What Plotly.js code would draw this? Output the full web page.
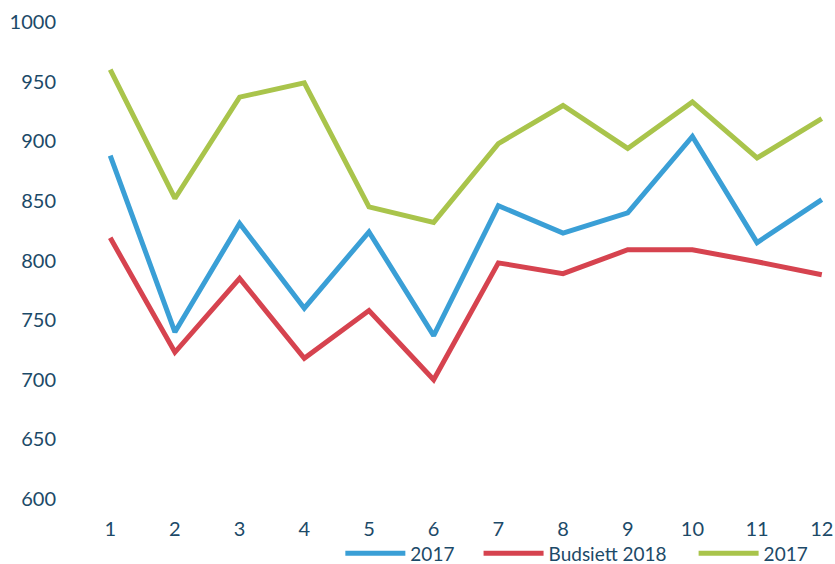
<!DOCTYPE html>
<html>
<head>
<meta charset="utf-8">
<script src="https://cdn.plot.ly/plotly-3.0.1.min.js"></script>
<style>html,body{margin:0;padding:0;background:#fff;}#chart{width:835px;height:564px;}</style>
</head>
<body>
<div id="chart"></div>
<script>
const months = [1,2,3,4,5,6,7,8,9,10,11,12];
const seriesNames = ["2017", "Budsiett 2018", "2017"];
const blue2017 = [888, 740, 831, 760, 824, 737, 846, 823, 840, 904, 815, 851];
const budsjett2018 = [819, 723, 785, 718, 758, 700, 798, 789, 809, 809, 799, 788];
const green2017 = [960, 852, 937, 949, 845, 832, 898, 930, 894, 933, 886, 919];
const yTicks = [600, 650, 700, 750, 800, 850, 900, 950, 1000];

const colors = ["#3a9fd6", "#d6434f", "#a9c44b"];
const values = [blue2017, budsjett2018, green2017];
const legendIds = ['legend', 'legend2', 'legend3'];
const traces = values.map((v, i) => ({
  x: months, y: v, name: seriesNames[i], type: 'scatter', mode: 'lines',
  line: {color: colors[i], width: 5}, legend: legendIds[i]
}));

const font = {family: 'Lato, "Open Sans", sans-serif', size: 20, color: '#1c4a68'};
const legendFont = Object.assign({}, font, {size: 19});
const legendBase = {orientation: 'h', xanchor: 'left', y: -0.114, yanchor: 'middle',
  bgcolor: 'rgba(0,0,0,0)', font: legendFont, itemwidth: 60, tracegroupgap: 0};
const legendX = [0.325, 0.5175, 0.817];
const layout = {
  width: 835, height: 564,
  margin: {l: 107, r: 10, t: 22, b: 65, autoexpand: false},
  paper_bgcolor: '#fff', plot_bgcolor: '#fff',
  font: font,
  showlegend: true,
  legend: Object.assign({}, legendBase, {x: legendX[0]}),
  legend2: Object.assign({}, legendBase, {x: legendX[1]}),
  legend3: Object.assign({}, legendBase, {x: legendX[2]}),
  xaxis: {range: [0.95, 12.05], tickvals: months, showgrid: false, zeroline: false, showline: false,
          ticks: 'outside', ticklen: 12, tickcolor: 'rgba(0,0,0,0)', tickfont: font},
  yaxis: {range: [600, 1000], tickvals: yTicks, showgrid: false, zeroline: false, showline: false,
          ticks: 'outside', ticklen: 46, tickcolor: 'rgba(0,0,0,0)', tickfont: font}
};
Plotly.newPlot('chart', traces, layout, {displayModeBar: false, staticPlot: true});
</script>
</body>
</html>
